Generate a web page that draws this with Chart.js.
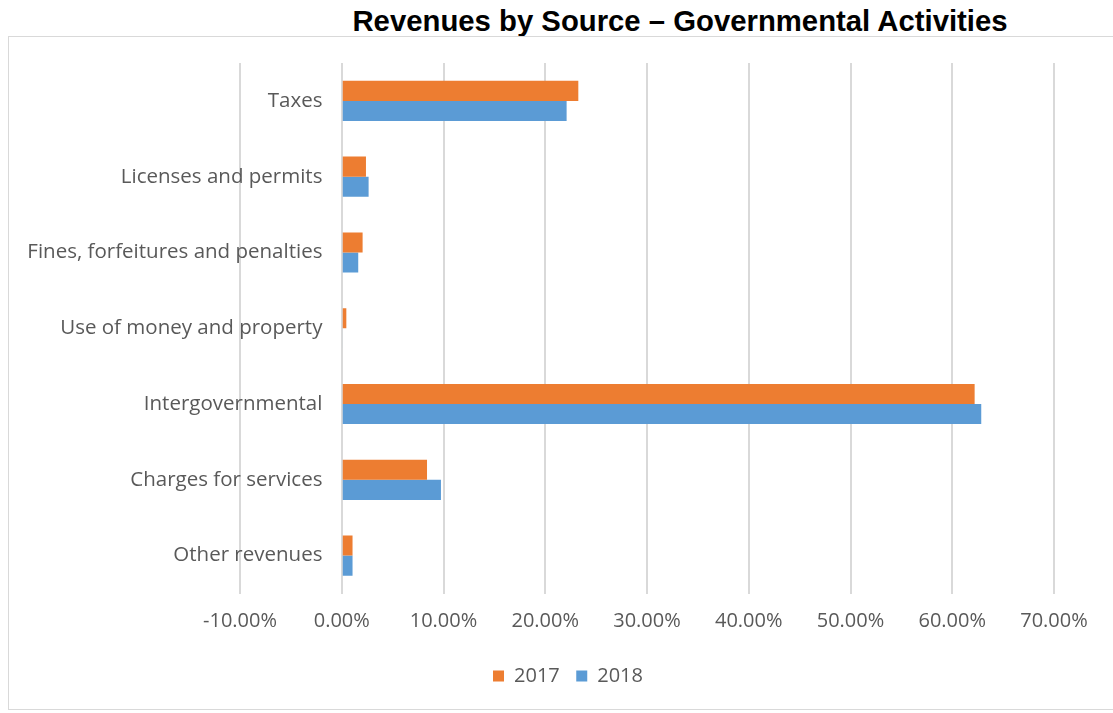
<!DOCTYPE html>
<html>
<head>
<meta charset="utf-8">
<script src="https://cdn.jsdelivr.net/npm/chart.js@4"></script>
<style>
  body { margin: 0; background: #fff; width: 1113px; height: 713px; overflow: hidden; position: relative; }
  #title {
    position: absolute; left: 680px; top: 4px; transform: translateX(-50%);
    white-space: nowrap; font: bold 29.3px "Liberation Sans", Arial, sans-serif; color: #000;
  }
  #box {
    position: absolute; left: 8px; top: 36px; width: 1120px; height: 672px;
    border: 1px solid #d9d9d9;
  }
  #box canvas { display: block; }
</style>
</head>
<body>
<div id="title">Revenues by Source – Governmental Activities</div>
<div id="box"><canvas id="revChart" width="1104" height="672"></canvas></div>
<script>
const categories = [
  'Taxes',
  'Licenses and permits',
  'Fines, forfeitures and penalties',
  'Use of money and property',
  'Intergovernmental',
  'Charges for services',
  'Other revenues'
];
const seriesNames = ['2017', '2018'];
const share2017 = [23.25, 2.38, 2.05, 0.45, 62.2, 8.38, 1.06];
const share2018 = [22.1, 2.64, 1.62, 0.1, 62.85, 9.75, 1.06];
const xTickMin = -10;
const xTickMax = 70;
const xTickStep = 10;

const catFont = { family: '"Open Sans", sans-serif', size: 20.5 };
const tickFont = { family: '"Open Sans", sans-serif', size: 20 };
const textColor = '#595959';

// keep the legend centred on the whole canvas, not just the padded plot width
const centreLegend = {
  id: 'centreLegend',
  afterLayout(chart) {
    if (chart.legend) {
      chart.legend.left = 7;
      chart.legend.right = 1111;
    }
  }
};

const ctx = document.getElementById('revChart');
new Chart(ctx, {
  type: 'bar',
  data: {
    labels: categories,
    datasets: [
      { label: seriesNames[0], data: share2017, backgroundColor: '#ED7D31' },
      { label: seriesNames[1], data: share2018, backgroundColor: '#5B9BD5' }
    ]
  },
  options: {
    indexAxis: 'y',
    responsive: false,
    animation: false,
    layout: { padding: { left: 231, right: 59, top: 26, bottom: 13 } },
    datasets: { bar: { barPercentage: 1, categoryPercentage: 0.53 } },
    scales: {
      x: {
        min: xTickMin,
        max: xTickMax,
        grid: { color: '#d9d9d9', lineWidth: 2, drawTicks: false },
        border: { display: false },
        ticks: {
          stepSize: xTickStep,
          padding: 16,
          color: textColor,
          font: tickFont,
          callback: (v) => v.toFixed(2) + '%'
        }
      },
      y: {
        // category labels sit just left of the 0% line
        position: { x: -1.9 },
        grid: { display: false },
        border: { display: false },
        ticks: { color: textColor, font: catFont }
      }
    },
    plugins: {
      legend: {
        position: 'bottom',
        labels: {
          color: textColor,
          font: tickFont,
          boxWidth: 11,
          boxHeight: 11,
          padding: 16.5
        }
      },
      tooltip: { enabled: false }
    }
  },
  plugins: [centreLegend]
});
</script>
</body>
</html>
